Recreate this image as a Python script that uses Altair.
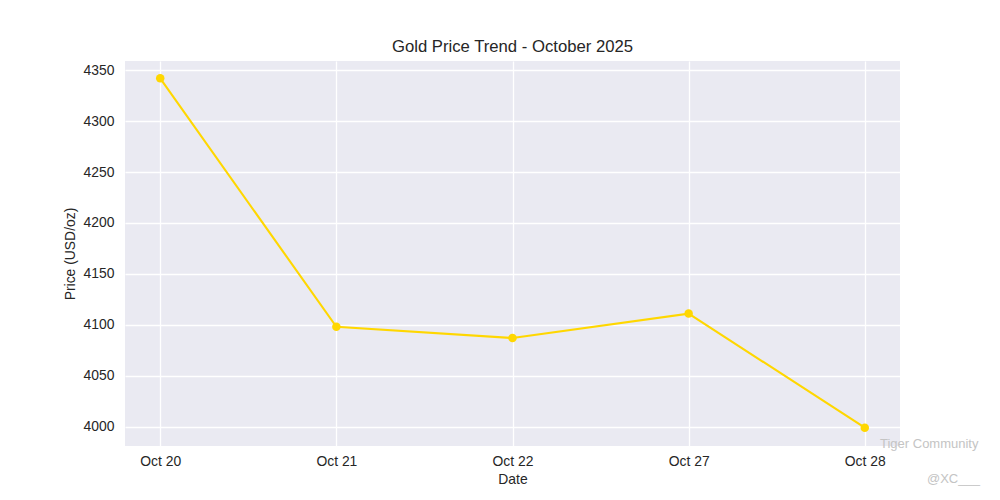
import altair as alt
import pandas as pd

dates = ["Oct 20", "Oct 21", "Oct 22", "Oct 27", "Oct 28"]
prices = [4342, 4098, 4087, 4111, 3999]
y_ticks = [4000, 4050, 4100, 4150, 4200, 4250, 4300, 4350]

df = pd.DataFrame({"Date": dates, "Price": prices})

FONT = "Liberation Sans"
TXT = "#262626"

x_enc = alt.X(
    "Date:O",
    sort=dates,
    scale=alt.Scale(type="point", padding=0.2),
    axis=alt.Axis(
        title="Date", labelAngle=0, ticks=False, domain=False, grid=True,
        gridColor="white", gridWidth=1.3, labelFontSize=13.9, labelColor=TXT,
        labelFont=FONT, labelPadding=8, titleFontSize=13.9, titleColor=TXT,
        titleFont=FONT, titleFontWeight="normal", titlePadding=5,
    ),
)
y_enc = alt.Y(
    "Price:Q",
    scale=alt.Scale(domain=[3981, 4359], zero=False, nice=False),
    axis=alt.Axis(
        title="Price (USD/oz)", values=y_ticks, format="d", ticks=False,
        domain=False, grid=True, gridColor="white", gridWidth=1.3,
        labelFontSize=13.9, labelColor=TXT, labelFont=FONT, labelPadding=11,
        titleFontSize=13.9, titleColor=TXT, titleFont=FONT,
        titleFontWeight="normal", titlePadding=6,
    ),
)

base = alt.Chart(df).encode(x=x_enc, y=y_enc)
line = base.mark_line(color="#FFD700", strokeWidth=2.1)
pts = base.mark_point(
    shape="circle", filled=True, color="#FFD700", size=72, opacity=1
)

wm1 = alt.Chart(pd.DataFrame({"t": ["Tiger Community"]})).mark_text(
    font=FONT, fontSize=13, color="#c4c4c4", align="left", baseline="middle"
).encode(text="t:N", x=alt.value(755), y=alt.value(383))
wm2 = alt.Chart(pd.DataFrame({"t": ["@XC___"]})).mark_text(
    font=FONT, fontSize=13, color="#c4c4c4", align="left", baseline="middle"
).encode(text="t:N", x=alt.value(802), y=alt.value(418))

chart = (
    alt.layer(line, pts, wm1, wm2)
    .properties(
        width=775,
        height=385,
        background="white",
        title=alt.TitleParams(
            "Gold Price Trend - October 2025", fontSize=16.7, font=FONT,
            fontWeight="normal", color=TXT, anchor="middle", offset=5,
        ),
        autosize=alt.AutoSizeParams(type="none"),
        padding={"left": 117, "top": 53, "right": 92, "bottom": 46},
    )
    .configure_view(fill="#EAEAF2", strokeWidth=0)
)

chart.save("out.html", embed_options={"renderer": "svg", "actions": False})
